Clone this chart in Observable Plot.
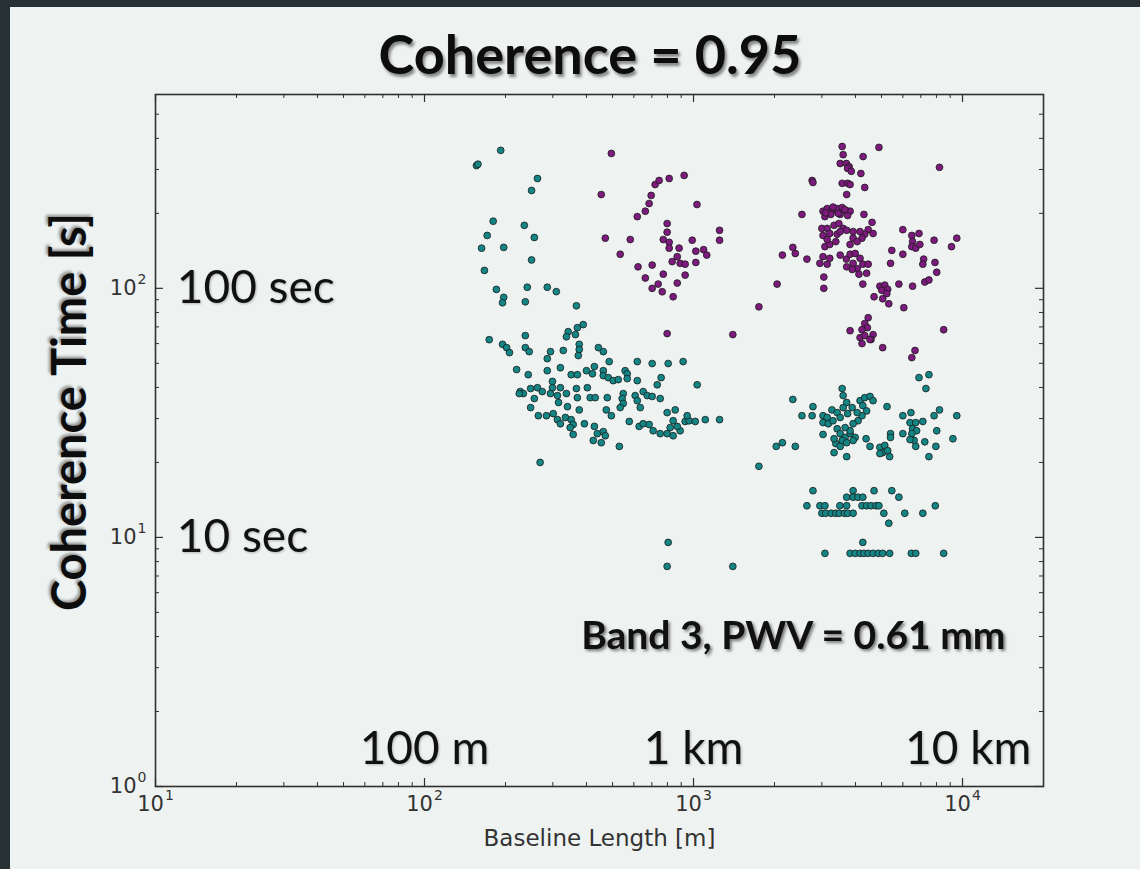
<!DOCTYPE html>
<html>
<head>
<meta charset="utf-8">
<script src="https://cdn.jsdelivr.net/npm/d3@7"></script>
<script src="https://cdn.jsdelivr.net/npm/@observablehq/plot@0.6"></script>
<style>
  html, body { margin: 0; padding: 0; background: #273135; }
  #page { position: relative; width: 1140px; height: 869px; overflow: hidden; background: #273135; }
  #slide { position: absolute; left: 10px; top: 7px; right: 0; bottom: 0; background: #eef2f1; }
  #chart { position: absolute; left: 0; top: 0; }
  #title {
    position: absolute; left: 590px; top: 54px; transform: translate(-50%, -50%);
    font-family: Lato, "Open Sans", sans-serif; font-weight: 700; font-size: 54px; line-height: 1;
    color: #0d0d0d; white-space: nowrap; text-shadow: 2px 3px 3px rgba(0,0,0,0.45);
  }
  #ylabel {
    position: absolute; left: 68px; top: 412px; transform: translate(-50%, -50%) rotate(-90deg);
    font-family: Lato, "Open Sans", sans-serif; font-weight: 700; font-size: 47px; line-height: 1;
    color: #0d0d0d; white-space: nowrap; text-shadow: 2px -2px 3px rgba(0,0,0,0.4);
  }
</style>
</head>
<body>
<div id="page">
  <div id="slide"></div>
  <div id="chart"></div>
  <div id="title">Coherence = 0.95</div>
  <div id="ylabel">Coherence Time [s]</div>
</div>
<script>
// Teal points: baseline length (m) and coherence time (s)
const tealBaseline = [
  192,156,158,263,250,180,235,171,256,163,197,250,167,185,241,286,309,197,195,237,
  367,389,370,342,337,364,174,237,195,202,207,237,245,294,286,328,376,376,373,443,
  462,220,243,286,320,351,370,400,421,428,462,462,482,486,503,525,557,567,567,618,
  618,702,805,915,758,733,1032,227,233,225,248,263,274,299,299,320,337,367,403,256,
  294,312,370,413,431,478,548,543,548,607,618,650,673,702,752,248,315,340,376,474,
  495,534,634,798,855,265,284,301,312,320,334,351,357,348,357,393,428,439,462,470,
  424,454,530,577,628,650,684,708,752,798,840,892,819,870,931,963,1015,1106,1250,947,
  840,269,1750,805,798,1400,
  6890,7500,7310,3570,2340,2780,2530,2760,5240,3030,3140,3270,3420,3030,3170,3300,3510,3030,
  3600,3710,3890,3600,3740,4160,4330,4530,4650,4260,4400,4230,4090,3920,4060,3420,3510,3660,
  3820,3990,3570,3710,3380,3510,3920,3820,3660,3330,3330,3710,4380,4530,4930,5140,5050,5270,
  4930,5360,5400,5400,6000,6430,6380,6700,7120,6520,6750,6480,6000,6610,6380,6700,7840,8210,
  9520,8020,7240,7960,9210,7500,2030,2140,2390,
  2780,3920,4690,5460,5800,3710,3920,4090,4260,2640,2950,3080,3500,3710,4230,4400,4570,4770,
  4890,7920,3000,3100,3250,3380,3480,3640,3740,3920,5100,6100,7120,5320,4260,3080,3820,3990,
  4160,4300,4460,4650,4860,5050,5360,6450,6700,8510
];
const tealTime = [
  358,311,315,276,247,186,179,163,160,145,146,130,118,99,101,101,97,92,87.5,88.3,
  85.1,71.5,69.5,67,63.9,65.2,62.2,64.6,59.6,57.8,55.2,57.8,55.7,55.7,52.2,56.3,59.6,56.8,53.7,57.8,
  55.7,47.2,45.0,46.7,48.0,45.0,45.0,46.7,45.4,48.5,46.7,44.6,43.8,50.8,42.6,43.0,46.7,45.4,43.4,50.8,
  42.6,49.9,49.9,50.8,43.8,41.0,41.0,38.5,37.8,37.8,39.6,39.9,38.5,42.3,39.9,39.9,37.8,39.6,39.9,36.1,
  37.8,37.1,36.4,36.4,36.4,36.4,37.8,36.1,34.5,37.1,35.4,38.5,37.1,36.8,36.1,33.2,34.8,33.5,32.5,32.5,
  30.8,33.2,33.2,31.7,32.5,30.8,30.8,31.4,29.7,28.6,30.3,29.7,28.4,27.6,25.9,28.6,27.9,26.1,26.6,25.6,
  24.5,24.0,23.2,29.2,27.9,28.6,28.4,26.8,26.1,26.1,25.6,26.8,27.6,27.9,29.2,29.4,29.2,29.7,29.7,30.8,
  29.4,20.0,19.3,9.55,7.65,7.65,
  43.8,45.0,39.6,39.6,35.8,33.5,30.8,30.8,33.5,30.8,30.3,32.5,31.7,28.9,28.6,29.4,30.3,25.9,
  37.1,34.8,33.2,33.2,31.4,35.4,36.4,36.8,35.4,33.8,32.2,30.8,29.4,28.6,31.7,27.3,26.1,25.2,
  26.1,25.2,24.5,24.0,23.8,23.2,24.5,26.8,27.6,24.9,21.9,21.1,24.9,23.2,23.0,23.4,21.9,22.3,
  21.7,21.1,26.1,25.2,30.8,31.7,28.9,28.9,29.2,27.3,26.8,26.1,26.1,24.5,24.7,23.2,30.8,32.5,
  30.8,26.8,24.2,23.2,24.9,21.1,23.2,24.0,23.2,
  15.4,15.4,15.4,15.4,14.5,14.5,14.5,14.5,14.5,13.4,13.4,13.4,13.4,13.4,13.4,13.4,13.4,13.4,
  13.4,13.4,12.5,12.5,12.5,12.5,12.5,12.5,12.5,12.5,12.5,12.5,12.5,11.4,9.55,8.63,8.63,8.63,
  8.63,8.63,8.63,8.63,8.63,8.63,8.63,8.63,8.63,8.63
];

// Purple points: baseline length (m) and coherence time (s)
const purpleBaseline = [
  495,454,470,582,534,618,662,684,696,720,745,812,923,1030,798,798,772,812,812,884,
  989,1250,1250,1020,1090,1120,870,833,892,931,1020,622,702,772,931,662,702,739,765,870,
  840,1750,798,1400,
  3570,3600,4890,4270,3510,3700,3790,3740,3860,4190,8210,2760,2780,3570,3740,3820,4330,3710,
  2530,3030,3140,3270,3420,3570,3700,3820,3080,3240,3510,3740,4300,3300,3450,3650,3100,
  3000,3140,3330,3470,3600,3030,3210,3420,3510,3710,3920,4610,4460,4650,4330,4160,4230,
  3080,3210,3380,3140,3820,3920,4060,2340,2390,2140,2640,3030,3210,2950,3140,3510,3700,3820,
  3990,4160,3920,3710,4060,4260,4400,4120,3890,4460,3050,3050,2045,4260,5460,5400,6000,6480,
  6890,6520,6480,6700,6940,6000,7840,9520,9100,7170,7120,7900,8020,7240,7500,6520,5800,4930,
  5140,5270,5010,5230,5050,5320,4690,6050,8510,4460,4330,4430,4230,3820,4650,4160,4330,4570,
  4230,4530,5050,6660,6480
];
const purpleTime = [
  348,238,159,157,137,194,204,219,236,261,271,276,284,217,182,168,157,153,145,145,
  156,171,156,141,143,136,134,128,126,125,127,122,124,114,113,110,100,104,96.9,105,
  92.5,84.3,65.8,65.2,
  371,344,368,338,317,317,308,303,295,289,306,271,266,264,264,261,254,238,
  198,204,209,205,209,211,205,204,194,198,198,196,198,212,200,207,201,
  174,174,179,182,174,163,166,165,169,171,169,184,172,166,165,169,159,
  147,150,154,157,150,159,154,146,138,136,131,134,132,126,125,136,131,137,
  138,132,126,122,120,125,115,114,119,125,111,100,104,104,142,126,172,163,
  166,154,147,145,150,137,156,159,147,131,125,127,116,106,108,102,104,102,
  103,99.1,98.2,95.2,90.8,86.7,92.5,83.6,68.2,76.2,72.2,69.5,68.2,67.6,65.2,63.4,64.6,62.3,
  60.0,62.3,57.8,56.3,52.7
];

// Axis ticks
const xTicks = [10, 100, 1000, 10000];
const yTicks = [1, 10, 100];
const xMinorTicks = [20,30,40,50,60,70,80,90,200,300,400,500,600,700,800,900,2000,3000,4000,5000,6000,7000,8000,9000];
const yMinorTicks = [2,3,4,5,6,7,8,9,20,30,40,50,60,70,80,90,200,300,400,500];

// In-plot annotations
const secNotes = [{label: "100 sec", x: 12, y: 100}, {label: "10 sec", x: 12, y: 10}];
const distNotes = [{label: "100 m", x: 100, y: 1.41}, {label: "1 km", x: 1000, y: 1.41}, {label: "10 km", x: 10500, y: 1.41}];
const bandNote = [{label: "Band 3, PWV = 0.61 mm", x: 2350, y: 4}];

const teal = tealBaseline.map((b, i) => ({baseline: b, time: tealTime[i]}));
const purple = purpleBaseline.map((b, i) => ({baseline: b, time: purpleTime[i]}));

const W = 1140, H = 869, mL = 155, mR = 97, mT = 94, mB = 83;
const innerW = W - mL - mR, innerH = H - mT - mB;
// tick labels written as "10^k"; the exponent is raised into a superscript after rendering
const powerFormat = d => "10^" + Math.round(Math.log10(d));
const axisColor = "#303030";
const tickFontSize = 21;

const chart = Plot.plot({
  width: W, height: H,
  marginLeft: mL, marginRight: mR, marginTop: mT, marginBottom: mB,
  x: {type: "log", domain: [10, 20000]},
  y: {type: "log", domain: [1, 600]},
  style: {background: "transparent", fontFamily: "'DejaVu Sans', sans-serif", overflow: "visible"},
  marks: [
    // inward ticks on all four sides
    Plot.tickX(xTicks, {x: d => d, insetTop: innerH - 8, stroke: axisColor, strokeWidth: 1.2}),
    Plot.tickX(xTicks, {x: d => d, insetBottom: innerH - 8, stroke: axisColor, strokeWidth: 1.2}),
    Plot.tickX(xMinorTicks, {x: d => d, insetTop: innerH - 4, stroke: axisColor, strokeWidth: 1}),
    Plot.tickX(xMinorTicks, {x: d => d, insetBottom: innerH - 4, stroke: axisColor, strokeWidth: 1}),
    Plot.tickY(yTicks, {y: d => d, insetRight: innerW - 8, stroke: axisColor, strokeWidth: 1.2}),
    Plot.tickY(yTicks, {y: d => d, insetLeft: innerW - 8, stroke: axisColor, strokeWidth: 1.2}),
    Plot.tickY(yMinorTicks, {y: d => d, insetRight: innerW - 4, stroke: axisColor, strokeWidth: 1}),
    Plot.tickY(yMinorTicks, {y: d => d, insetLeft: innerW - 4, stroke: axisColor, strokeWidth: 1}),
    Plot.axisX(xTicks, {tickFormat: powerFormat, tickSize: 0, tickPadding: 10, fill: "#333", label: null}),
    Plot.axisY(yTicks, {tickFormat: powerFormat, tickSize: 0, tickPadding: 9, fill: "#333", label: null}),
    Plot.frame({stroke: axisColor, strokeWidth: 1.6}),
    Plot.text(["Baseline Length [m]"], {frameAnchor: "bottom", dy: 59, fontSize: 23, fill: "#333"}),
    Plot.text(secNotes, {x: "x", y: "y", text: "label", textAnchor: "start", fontSize: 46, fontFamily: "Lato", fill: "#111"}),
    Plot.text(distNotes, {x: "x", y: "y", text: "label", textAnchor: "middle", fontSize: 46, fontFamily: "Lato", fill: "#111"}),
    Plot.text(bandNote, {x: "x", y: "y", text: "label", textAnchor: "middle", fontSize: 39, fontWeight: 700, fontFamily: "Lato", fill: "#111"}),
    Plot.dot(teal, {x: "baseline", y: "time", r: 3.4, fill: "#138585", stroke: "#1b1b1b", strokeWidth: 0.8}),
    Plot.dot(purple, {x: "baseline", y: "time", r: 3.4, fill: "#7d1a7d", stroke: "#1b1b1b", strokeWidth: 0.8})
  ]
});

// raise tick-label exponents and add soft drop shadows to the slide annotations
chart.querySelectorAll("text").forEach(t => {
  const s = t.textContent;
  const m = /^10\^(\d)$/.exec(s);
  if (m) {
    t.textContent = "";
    t.style.fontSize = tickFontSize + "px";
    const ns = "http://www.w3.org/2000/svg";
    const base = document.createElementNS(ns, "tspan");
    base.textContent = "10";
    const sup = document.createElementNS(ns, "tspan");
    sup.textContent = m[1];
    sup.setAttribute("font-size", Math.round(tickFontSize * 0.68));
    sup.setAttribute("dy", -Math.round(tickFontSize * 0.5));
    sup.setAttribute("dx", 1);
    t.appendChild(base);
    t.appendChild(sup);
  } else if (s === bandNote[0].label) {
    t.style.filter = "drop-shadow(2px 2px 1.5px rgba(0,0,0,0.5))";
  } else if (secNotes.some(n => n.label === s) || distNotes.some(n => n.label === s)) {
    t.style.filter = "drop-shadow(1px 1px 1px rgba(0,0,0,0.25))";
  }
});

document.getElementById("chart").appendChild(chart);
</script>
</body>
</html>
